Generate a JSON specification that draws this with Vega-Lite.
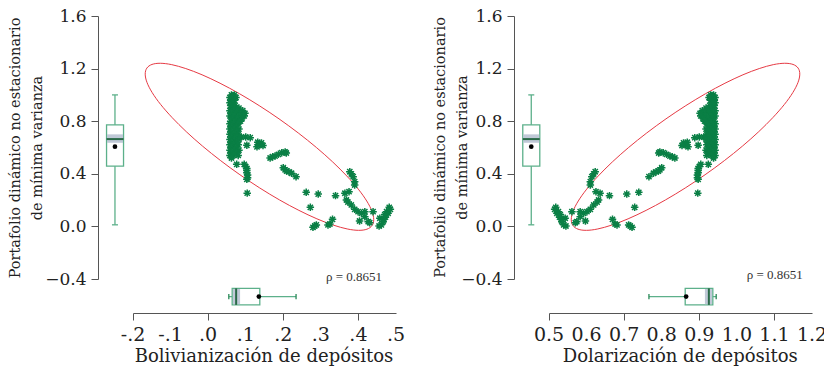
{
"$schema": "https://vega.github.io/schema/vega-lite/v6.json",
"background": "white",
"padding": {"left": 7, "top": 7, "right": 0, "bottom": 0},
"spacing": 153,
"bounds": "flush",
"config": {
  "view": {"stroke": null},
  "axis": {"grid": false, "labelFont": "DejaVu Serif", "labelFontSize": 17, "labelColor": "#222", "titleFont": "DejaVu Serif", "titleFontWeight": "normal", "titleColor": "#222", "domainColor": "#555", "tickColor": "#555", "tickSize": 7, "labelOverlap": false, "labelFlush": false},
  "axisY": {"labelPadding": 5}
},
"datasets": {
  "xl": [{"v":-0.2,"lab":"-.2"},{"v":-0.1,"lab":"-.1"},{"v":0,"lab":".0"},{"v":0.1,"lab":".1"},{"v":0.2,"lab":".2"},{"v":0.3,"lab":".3"},{"v":0.4,"lab":".4"},{"v":0.5,"lab":".5"}],
  "xr": [{"v":0.5,"lab":"0.5"},{"v":0.6,"lab":"0.6"},{"v":0.7,"lab":"0.7"},{"v":0.8,"lab":"0.8"},{"v":0.9,"lab":"0.9"},{"v":1.0,"lab":"1.0"},{"v":1.1,"lab":"1.1"},{"v":1.2,"lab":"1.2"}],
  "pts": [
{"b":0.062,"d":0.938,"y":1.00},{"b":0.070,"d":0.930,"y":1.00},{"b":0.058,"d":0.942,"y":0.98},{"b":0.066,"d":0.934,"y":0.98},{"b":0.074,"d":0.926,"y":0.98},
{"b":0.060,"d":0.940,"y":0.96},{"b":0.070,"d":0.930,"y":0.96},{"b":0.058,"d":0.942,"y":0.94},{"b":0.066,"d":0.934,"y":0.94},{"b":0.060,"d":0.940,"y":0.92},
{"b":0.072,"d":0.928,"y":0.92},{"b":0.062,"d":0.938,"y":0.90},{"b":0.070,"d":0.930,"y":0.90},{"b":0.082,"d":0.918,"y":0.90},{"b":0.058,"d":0.942,"y":0.88},
{"b":0.068,"d":0.932,"y":0.88},{"b":0.080,"d":0.920,"y":0.88},{"b":0.092,"d":0.908,"y":0.88},{"b":0.062,"d":0.938,"y":0.86},{"b":0.074,"d":0.926,"y":0.86},
{"b":0.088,"d":0.912,"y":0.86},{"b":0.098,"d":0.902,"y":0.86},{"b":0.058,"d":0.942,"y":0.84},{"b":0.070,"d":0.930,"y":0.84},{"b":0.084,"d":0.916,"y":0.84},
{"b":0.096,"d":0.904,"y":0.84},{"b":0.064,"d":0.936,"y":0.82},{"b":0.078,"d":0.922,"y":0.82},{"b":0.090,"d":0.910,"y":0.82},{"b":0.060,"d":0.940,"y":0.80},
{"b":0.072,"d":0.928,"y":0.80},{"b":0.086,"d":0.914,"y":0.80},{"b":0.058,"d":0.942,"y":0.78},{"b":0.068,"d":0.932,"y":0.78},{"b":0.080,"d":0.920,"y":0.78},
{"b":0.062,"d":0.938,"y":0.76},{"b":0.074,"d":0.926,"y":0.76},{"b":0.058,"d":0.942,"y":0.74},{"b":0.070,"d":0.930,"y":0.74},{"b":0.082,"d":0.918,"y":0.74},
{"b":0.062,"d":0.938,"y":0.72},{"b":0.076,"d":0.924,"y":0.72},{"b":0.058,"d":0.942,"y":0.70},{"b":0.068,"d":0.932,"y":0.70},{"b":0.080,"d":0.920,"y":0.70},
{"b":0.062,"d":0.938,"y":0.68},{"b":0.074,"d":0.926,"y":0.68},{"b":0.088,"d":0.912,"y":0.68},{"b":0.100,"d":0.900,"y":0.68},{"b":0.112,"d":0.888,"y":0.675},
{"b":0.058,"d":0.942,"y":0.66},{"b":0.070,"d":0.930,"y":0.66},{"b":0.082,"d":0.918,"y":0.66},{"b":0.062,"d":0.938,"y":0.64},{"b":0.076,"d":0.924,"y":0.64},
{"b":0.058,"d":0.942,"y":0.62},{"b":0.068,"d":0.932,"y":0.62},{"b":0.080,"d":0.920,"y":0.62},{"b":0.062,"d":0.938,"y":0.60},{"b":0.074,"d":0.926,"y":0.60},
{"b":0.058,"d":0.942,"y":0.58},{"b":0.070,"d":0.930,"y":0.58},{"b":0.082,"d":0.918,"y":0.58},{"b":0.062,"d":0.938,"y":0.56},{"b":0.076,"d":0.924,"y":0.56},
{"b":0.058,"d":0.942,"y":0.54},{"b":0.068,"d":0.932,"y":0.54},{"b":0.080,"d":0.920,"y":0.54},{"b":0.062,"d":0.938,"y":0.52},
{"b":0.103,"d":0.897,"y":0.617},{"b":0.132,"d":0.868,"y":0.640},{"b":0.142,"d":0.858,"y":0.635},{"b":0.137,"d":0.863,"y":0.620},{"b":0.146,"d":0.854,"y":0.615},
{"b":0.130,"d":0.870,"y":0.605},{"b":0.165,"d":0.835,"y":0.520},{"b":0.172,"d":0.828,"y":0.530},{"b":0.178,"d":0.822,"y":0.535},{"b":0.187,"d":0.813,"y":0.548},
{"b":0.196,"d":0.804,"y":0.560},{"b":0.205,"d":0.795,"y":0.566},{"b":0.208,"d":0.792,"y":0.558},{"b":0.076,"d":0.924,"y":0.472},{"b":0.096,"d":0.904,"y":0.472},
{"b":0.100,"d":0.900,"y":0.455},{"b":0.103,"d":0.897,"y":0.440},{"b":0.103,"d":0.897,"y":0.425},{"b":0.103,"d":0.897,"y":0.408},{"b":0.105,"d":0.895,"y":0.390},
{"b":0.105,"d":0.895,"y":0.370},{"b":0.103,"d":0.897,"y":0.358},{"b":0.104,"d":0.896,"y":0.253},{"b":0.200,"d":0.800,"y":0.446},{"b":0.205,"d":0.795,"y":0.430},
{"b":0.209,"d":0.791,"y":0.421},{"b":0.215,"d":0.785,"y":0.415},{"b":0.222,"d":0.778,"y":0.404},{"b":0.234,"d":0.766,"y":0.378},{"b":0.261,"d":0.739,"y":0.259},
{"b":0.293,"d":0.707,"y":0.246},{"b":0.339,"d":0.661,"y":0.234},{"b":0.272,"d":0.728,"y":0.145},{"b":0.331,"d":0.669,"y":0.054},{"b":0.319,"d":0.681,"y":0.011},
{"b":0.324,"d":0.676,"y":0.018},{"b":0.288,"d":0.712,"y":0.011},{"b":0.279,"d":0.721,"y":-0.007},{"b":0.284,"d":0.716,"y":0.004},{"b":0.377,"d":0.623,"y":0.416},
{"b":0.381,"d":0.619,"y":0.400},{"b":0.386,"d":0.614,"y":0.378},{"b":0.390,"d":0.610,"y":0.340},{"b":0.390,"d":0.610,"y":0.315},{"b":0.375,"d":0.625,"y":0.264},
{"b":0.364,"d":0.636,"y":0.252},{"b":0.368,"d":0.632,"y":0.201},{"b":0.372,"d":0.628,"y":0.185},{"b":0.381,"d":0.619,"y":0.163},{"b":0.390,"d":0.610,"y":0.130},
{"b":0.399,"d":0.601,"y":0.112},{"b":0.408,"d":0.592,"y":0.100},{"b":0.417,"d":0.583,"y":0.112},{"b":0.417,"d":0.583,"y":0.074},{"b":0.403,"d":0.597,"y":0.041},
{"b":0.426,"d":0.574,"y":0.036},{"b":0.430,"d":0.570,"y":0.028},{"b":0.439,"d":0.561,"y":0.112},{"b":0.457,"d":0.543,"y":0.062},{"b":0.466,"d":0.534,"y":0.050},
{"b":0.455,"d":0.545,"y":0.003},{"b":0.461,"d":0.539,"y":0.012},{"b":0.475,"d":0.525,"y":0.112},{"b":0.482,"d":0.518,"y":0.145},{"b":0.479,"d":0.521,"y":0.100},
{"b":0.466,"d":0.534,"y":0.036},{"b":0.472,"d":0.528,"y":0.070},{"b":0.485,"d":0.515,"y":0.130},{"b":0.470,"d":0.530,"y":0.090}
  ],
  "ell": [
{"t":0,"eb":0.4363,"ed":0.5637,"ey":0.0067},{"t":10,"eb":0.4227,"ed":0.5773,"ey":-0.0211},{"t":20,"eb":0.4004,"ed":0.5996,"ey":-0.0299},
{"t":30,"eb":0.3701,"ed":0.6299,"ey":-0.0194},{"t":40,"eb":0.3328,"ed":0.6672,"ey":0.0102},{"t":50,"eb":0.2894,"ed":0.7106,"ey":0.0577},
{"t":60,"eb":0.2415,"ed":0.7585,"ey":0.1220},{"t":70,"eb":0.1902,"ed":0.8098,"ey":0.2009},{"t":80,"eb":0.1374,"ed":0.8626,"ey":0.2921},
{"t":90,"eb":0.0846,"ed":0.9154,"ey":0.3928},{"t":100,"eb":0.0334,"ed":0.9666,"ey":0.4999},{"t":110,"eb":-0.0148,"ed":1.0148,"ey":0.6103},
{"t":120,"eb":-0.0583,"ed":1.0583,"ey":0.7206},{"t":130,"eb":-0.0958,"ed":1.0958,"ey":0.8273},{"t":140,"eb":-0.1264,"ed":1.1264,"ey":0.9272},
{"t":150,"eb":-0.1489,"ed":1.1489,"ey":1.0174},{"t":160,"eb":-0.1628,"ed":1.1628,"ey":1.0951},{"t":170,"eb":-0.1675,"ed":1.1675,"ey":1.1579},
{"t":180,"eb":-0.1631,"ed":1.1631,"ey":1.2039},{"t":190,"eb":-0.1495,"ed":1.1495,"ey":1.2317},{"t":200,"eb":-0.1272,"ed":1.1272,"ey":1.2405},
{"t":210,"eb":-0.0969,"ed":1.0969,"ey":1.2300},{"t":220,"eb":-0.0596,"ed":1.0596,"ey":1.2004},{"t":230,"eb":-0.0162,"ed":1.0162,"ey":1.1529},
{"t":240,"eb":0.0317,"ed":0.9683,"ey":1.0886},{"t":250,"eb":0.0830,"ed":0.9170,"ey":1.0097},{"t":260,"eb":0.1358,"ed":0.8642,"ey":0.9185},
{"t":270,"eb":0.1886,"ed":0.8114,"ey":0.8178},{"t":280,"eb":0.2398,"ed":0.7602,"ey":0.7107},{"t":290,"eb":0.2880,"ed":0.7120,"ey":0.6003},
{"t":300,"eb":0.3315,"ed":0.6685,"ey":0.4900},{"t":310,"eb":0.3690,"ed":0.6310,"ey":0.3833},{"t":320,"eb":0.3996,"ed":0.6004,"ey":0.2834},
{"t":330,"eb":0.4221,"ed":0.5779,"ey":0.1932},{"t":340,"eb":0.4360,"ed":0.5640,"ey":0.1155},{"t":350,"eb":0.4407,"ed":0.5593,"ey":0.0527}
  ],
  "st": [
{"lo":0.012,"q1":0.458,"med":0.664,"q3":0.772,"hi":1.0,"mean":0.606,"cilo":0.636,"cihi":0.700,
 "blo":0.055,"bq1":0.064,"bmed":0.0745,"bq3":0.1375,"bhi":0.234,"bmean":0.135,"bcilo":0.066,"bcihi":0.085,
 "dlo":0.766,"dq1":0.8625,"dmed":0.9255,"dq3":0.936,"dhi":0.945,"dmean":0.865,"dcilo":0.915,"dcihi":0.934}
  ]
},
"hconcat": [
{
  "width": 263, "height": 263,
  "layer": [
    {"data": {"name": "ell"}, "mark": {"type": "line", "color": "#e63a44", "strokeWidth": 1, "interpolate": "cardinal-closed"},
     "encoding": {
       "x": {"field": "eb", "type": "quantitative", "scale": {"domain": [-0.2, 0.5], "nice": false, "zero": false},
             "axis": {"title": null, "labels": false, "offset": 34, "values": [-0.2,-0.1,0,0.1,0.2,0.3,0.4,0.5]}},
       "y": {"field": "ey", "type": "quantitative", "scale": {"domain": [-0.4, 1.6], "nice": false, "zero": false},
             "axis": {"title": ["Portafolio dinámico no estacionario", "de mínima varianza"], "titleFontSize": 14.5, "titleLineHeight": 22, "offset": 35, "values": [-0.4,0,0.4,0.8,1.2,1.6], "format": ".1f", "titlePadding": 0}},
       "order": {"field": "t", "type": "quantitative"}
     }},
    {"data": {"name": "pts"}, "mark": {"type": "point", "shape": "M0,-1L0,1M-1,0L1,0M-0.7,-0.7L0.7,0.7M-0.7,0.7L0.7,-0.7", "filled": false, "strokeWidth": 1.5, "size": 56, "color": "#0a7f45", "opacity": 1},
     "encoding": {"x": {"field": "b", "type": "quantitative"}, "y": {"field": "y", "type": "quantitative"}}},
    {"data": {"name": "xl"}, "mark": {"type": "text", "font": "DejaVu Serif", "fontSize": 19, "color": "#222", "align": "center", "baseline": "alphabetic"},
     "encoding": {"x": {"field": "v", "type": "quantitative"}, "y": {"datum": -0.875, "type": "quantitative"}, "text": {"field": "lab", "type": "nominal"}}},
    {"data": {"name": "st"}, "mark": {"type": "text", "text": "Bolivianización de depósitos", "font": "DejaVu Serif", "fontSize": 18, "color": "#222", "align": "center", "baseline": "alphabetic"},
     "encoding": {"x": {"datum": 0.1488, "type": "quantitative"}, "y": {"datum": -1.031, "type": "quantitative"}}},
    {"data": {"name": "st"}, "mark": {"type": "rule", "color": "#5cb08a", "strokeWidth": 1.3},
     "encoding": {"x": {"datum": -0.248, "type": "quantitative"}, "y": {"field": "lo", "type": "quantitative"}, "y2": {"field": "hi"}}},
    {"data": {"name": "st"}, "mark": {"type": "rule", "color": "#5cb08a", "strokeWidth": 1.3},
     "encoding": {"x": {"datum": -0.256, "type": "quantitative"}, "x2": {"datum": -0.240}, "y": {"field": "lo", "type": "quantitative"}}},
    {"data": {"name": "st"}, "mark": {"type": "rule", "color": "#5cb08a", "strokeWidth": 1.3},
     "encoding": {"x": {"datum": -0.256, "type": "quantitative"}, "x2": {"datum": -0.240}, "y": {"field": "hi", "type": "quantitative"}}},
    {"data": {"name": "st"}, "mark": {"type": "rect", "fill": "white", "stroke": "#5cb08a", "strokeWidth": 1.3},
     "encoding": {"x": {"datum": -0.2704, "type": "quantitative"}, "x2": {"datum": -0.2252}, "y": {"field": "q1", "type": "quantitative"}, "y2": {"field": "q3"}}},
    {"data": {"name": "st"}, "mark": {"type": "rect", "fill": "#b5bfd0", "opacity": 0.85},
     "encoding": {"x": {"datum": -0.2690, "type": "quantitative"}, "x2": {"datum": -0.2266}, "y": {"field": "cilo", "type": "quantitative"}, "y2": {"field": "cihi"}}},
    {"data": {"name": "st"}, "mark": {"type": "rule", "color": "#2a6a48", "strokeWidth": 2},
     "encoding": {"x": {"datum": -0.2704, "type": "quantitative"}, "x2": {"datum": -0.2252}, "y": {"field": "med", "type": "quantitative"}}},
    {"data": {"name": "st"}, "mark": {"type": "point", "filled": true, "color": "black", "size": 22, "opacity": 1},
     "encoding": {"x": {"datum": -0.248, "type": "quantitative"}, "y": {"field": "mean", "type": "quantitative"}}},
    {"data": {"name": "st"}, "mark": {"type": "rule", "color": "#5cb08a", "strokeWidth": 1.3},
     "encoding": {"y": {"datum": -0.534, "type": "quantitative"}, "x": {"field": "blo", "type": "quantitative"}, "x2": {"field": "bhi"}}},
    {"data": {"name": "st"}, "mark": {"type": "rule", "color": "#2a8a58", "strokeWidth": 1.3},
     "encoding": {"x": {"field": "blo", "type": "quantitative"}, "y": {"datum": -0.514, "type": "quantitative"}, "y2": {"datum": -0.554}}},
    {"data": {"name": "st"}, "mark": {"type": "rule", "color": "#2a8a58", "strokeWidth": 1.3},
     "encoding": {"x": {"field": "bhi", "type": "quantitative"}, "y": {"datum": -0.514, "type": "quantitative"}, "y2": {"datum": -0.554}}},
    {"data": {"name": "st"}, "mark": {"type": "rect", "fill": "white", "stroke": "#5cb08a", "strokeWidth": 1.3},
     "encoding": {"x": {"field": "bq1", "type": "quantitative"}, "x2": {"field": "bq3"}, "y": {"datum": -0.471, "type": "quantitative"}, "y2": {"datum": -0.597}}},
    {"data": {"name": "st"}, "mark": {"type": "rect", "fill": "#b5bfd0", "opacity": 0.85},
     "encoding": {"x": {"field": "bcilo", "type": "quantitative"}, "x2": {"field": "bcihi"}, "y": {"datum": -0.476, "type": "quantitative"}, "y2": {"datum": -0.592}}},
    {"data": {"name": "st"}, "mark": {"type": "rule", "color": "#2a6a48", "strokeWidth": 2},
     "encoding": {"x": {"field": "bmed", "type": "quantitative"}, "y": {"datum": -0.471, "type": "quantitative"}, "y2": {"datum": -0.597}}},
    {"data": {"name": "st"}, "mark": {"type": "point", "filled": true, "color": "black", "size": 22, "opacity": 1},
     "encoding": {"x": {"field": "bmean", "type": "quantitative"}, "y": {"datum": -0.534, "type": "quantitative"}}},
    {"data": {"name": "st"}, "mark": {"type": "text", "text": "ρ = 0.8651", "font": "Liberation Serif", "fontSize": 13, "color": "#333"},
     "encoding": {"x": {"datum": 0.388, "type": "quantitative"}, "y": {"datum": -0.385, "type": "quantitative"}}}
  ]
},
{
  "width": 263, "height": 263,
  "layer": [
    {"data": {"name": "ell"}, "mark": {"type": "line", "color": "#e63a44", "strokeWidth": 1, "interpolate": "cardinal-closed"},
     "encoding": {
       "x": {"field": "ed", "type": "quantitative", "scale": {"domain": [0.5, 1.2], "nice": false, "zero": false},
             "axis": {"title": null, "labels": false, "offset": 34, "values": [0.5,0.6,0.7,0.8,0.9,1.0,1.1,1.2]}},
       "y": {"field": "ey", "type": "quantitative", "scale": {"domain": [-0.4, 1.6], "nice": false, "zero": false},
             "axis": {"title": null, "offset": 35, "values": [-0.4,0,0.4,0.8,1.2,1.6], "format": ".1f"}},
       "order": {"field": "t", "type": "quantitative"}
     }},
    {"data": {"name": "pts"}, "mark": {"type": "point", "shape": "M0,-1L0,1M-1,0L1,0M-0.7,-0.7L0.7,0.7M-0.7,0.7L0.7,-0.7", "filled": false, "strokeWidth": 1.5, "size": 56, "color": "#0a7f45", "opacity": 1},
     "encoding": {"x": {"field": "d", "type": "quantitative"}, "y": {"field": "y", "type": "quantitative"}}},
    {"data": {"name": "xr"}, "mark": {"type": "text", "font": "DejaVu Serif", "fontSize": 19, "color": "#222", "align": "center", "baseline": "alphabetic"},
     "encoding": {"x": {"field": "v", "type": "quantitative"}, "y": {"datum": -0.875, "type": "quantitative"}, "text": {"field": "lab", "type": "nominal"}}},
    {"data": {"name": "st"}, "mark": {"type": "text", "text": "Dolarización de depósitos", "font": "DejaVu Serif", "fontSize": 18, "color": "#222", "align": "center", "baseline": "alphabetic"},
     "encoding": {"x": {"datum": 0.8495, "type": "quantitative"}, "y": {"datum": -1.031, "type": "quantitative"}}},
    {"data": {"name": "st"}, "mark": {"type": "text", "text": ["Portafolio dinámico no estacionario", "de mínima varianza"], "angle": 270, "font": "DejaVu Serif", "fontSize": 14.5, "lineHeight": 22, "align": "center", "baseline": "middle", "color": "#222"},
     "encoding": {"x": {"datum": 0.2133, "type": "quantitative"}, "y": {"datum": 0.6, "type": "quantitative"}}},
    {"data": {"name": "st"}, "mark": {"type": "rule", "color": "#5cb08a", "strokeWidth": 1.3},
     "encoding": {"x": {"datum": 0.4528, "type": "quantitative"}, "y": {"field": "lo", "type": "quantitative"}, "y2": {"field": "hi"}}},
    {"data": {"name": "st"}, "mark": {"type": "rule", "color": "#5cb08a", "strokeWidth": 1.3},
     "encoding": {"x": {"datum": 0.4448, "type": "quantitative"}, "x2": {"datum": 0.4608}, "y": {"field": "lo", "type": "quantitative"}}},
    {"data": {"name": "st"}, "mark": {"type": "rule", "color": "#5cb08a", "strokeWidth": 1.3},
     "encoding": {"x": {"datum": 0.4448, "type": "quantitative"}, "x2": {"datum": 0.4608}, "y": {"field": "hi", "type": "quantitative"}}},
    {"data": {"name": "st"}, "mark": {"type": "rect", "fill": "white", "stroke": "#5cb08a", "strokeWidth": 1.3},
     "encoding": {"x": {"datum": 0.4302, "type": "quantitative"}, "x2": {"datum": 0.4755}, "y": {"field": "q1", "type": "quantitative"}, "y2": {"field": "q3"}}},
    {"data": {"name": "st"}, "mark": {"type": "rect", "fill": "#b5bfd0", "opacity": 0.85},
     "encoding": {"x": {"datum": 0.4316, "type": "quantitative"}, "x2": {"datum": 0.4741}, "y": {"field": "cilo", "type": "quantitative"}, "y2": {"field": "cihi"}}},
    {"data": {"name": "st"}, "mark": {"type": "rule", "color": "#2a6a48", "strokeWidth": 2},
     "encoding": {"x": {"datum": 0.4302, "type": "quantitative"}, "x2": {"datum": 0.4755}, "y": {"field": "med", "type": "quantitative"}}},
    {"data": {"name": "st"}, "mark": {"type": "point", "filled": true, "color": "black", "size": 22, "opacity": 1},
     "encoding": {"x": {"datum": 0.4528, "type": "quantitative"}, "y": {"field": "mean", "type": "quantitative"}}},
    {"data": {"name": "st"}, "mark": {"type": "rule", "color": "#5cb08a", "strokeWidth": 1.3},
     "encoding": {"y": {"datum": -0.534, "type": "quantitative"}, "x": {"field": "dlo", "type": "quantitative"}, "x2": {"field": "dhi"}}},
    {"data": {"name": "st"}, "mark": {"type": "rule", "color": "#2a8a58", "strokeWidth": 1.3},
     "encoding": {"x": {"field": "dlo", "type": "quantitative"}, "y": {"datum": -0.514, "type": "quantitative"}, "y2": {"datum": -0.554}}},
    {"data": {"name": "st"}, "mark": {"type": "rule", "color": "#2a8a58", "strokeWidth": 1.3},
     "encoding": {"x": {"field": "dhi", "type": "quantitative"}, "y": {"datum": -0.514, "type": "quantitative"}, "y2": {"datum": -0.554}}},
    {"data": {"name": "st"}, "mark": {"type": "rect", "fill": "white", "stroke": "#5cb08a", "strokeWidth": 1.3},
     "encoding": {"x": {"field": "dq1", "type": "quantitative"}, "x2": {"field": "dq3"}, "y": {"datum": -0.471, "type": "quantitative"}, "y2": {"datum": -0.597}}},
    {"data": {"name": "st"}, "mark": {"type": "rect", "fill": "#b5bfd0", "opacity": 0.85},
     "encoding": {"x": {"field": "dcilo", "type": "quantitative"}, "x2": {"field": "dcihi"}, "y": {"datum": -0.476, "type": "quantitative"}, "y2": {"datum": -0.592}}},
    {"data": {"name": "st"}, "mark": {"type": "rule", "color": "#2a6a48", "strokeWidth": 2},
     "encoding": {"x": {"field": "dmed", "type": "quantitative"}, "y": {"datum": -0.471, "type": "quantitative"}, "y2": {"datum": -0.597}}},
    {"data": {"name": "st"}, "mark": {"type": "point", "filled": true, "color": "black", "size": 22, "opacity": 1},
     "encoding": {"x": {"field": "dmean", "type": "quantitative"}, "y": {"datum": -0.534, "type": "quantitative"}}},
    {"data": {"name": "st"}, "mark": {"type": "text", "text": "ρ = 0.8651", "font": "Liberation Serif", "fontSize": 13, "color": "#333"},
     "encoding": {"x": {"datum": 1.101, "type": "quantitative"}, "y": {"datum": -0.37, "type": "quantitative"}}}
  ]
}
]
}
